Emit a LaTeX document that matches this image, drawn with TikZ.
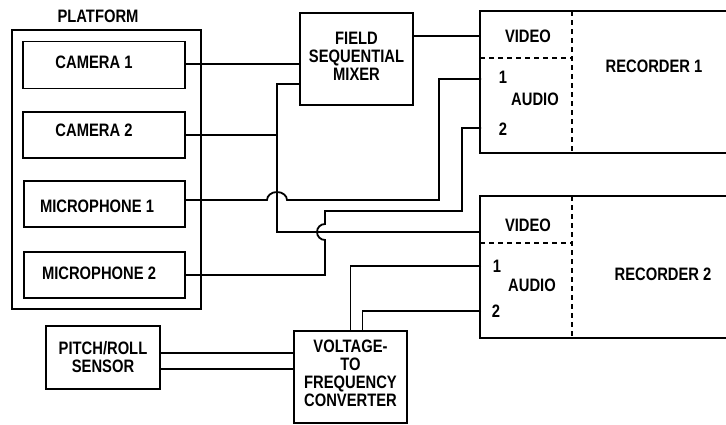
\documentclass[tikz,border=0pt]{standalone}
\usepackage{fontspec}
\setmainfont{Liberation Sans Bold}[FakeStretch=0.82]
\begin{document}
\begin{tikzpicture}[x=1pt,y=-1pt, line width=1.8pt,
  box/.style={draw, rectangle, inner sep=0pt},
  lbl/.style={font=\fontsize{18}{18}\selectfont, inner sep=0pt, align=center},
  dsh/.style={line width=1.5pt, dash pattern=on 5pt off 4pt}]
\useasboundingbox (0,0) rectangle (726,424);

% platform and sources
\node[lbl] (plab) at (98,16) {PLATFORM};
\node[box, minimum width=189pt, minimum height=279pt] (plat) at (106.5,169.5) {};
\node[box, minimum width=162pt, minimum height=47pt] (cam1) at (104,65) {};
\node[box, minimum width=162pt, minimum height=46pt] (cam2) at (104,135) {};
\node[box, minimum width=161pt, minimum height=46pt] (mic1) at (104.5,204) {};
\node[box, minimum width=161pt, minimum height=46pt] (mic2) at (104.5,275) {};
\node[lbl] (cam1t) at (94,62) {CAMERA 1};
\node[lbl] (cam2t) at (94,130.5) {CAMERA 2};
\node[lbl] (mic1t) at (97,206) {MICROPHONE 1};
\node[lbl] (mic2t) at (99,273.5) {MICROPHONE 2};

% mixer
\node[box, minimum width=113pt, minimum height=92pt] (mixer) at (356.5,59) {};
\node[lbl] (mixt) at ([yshift=3pt]mixer.center) {FIELD\\SEQUENTIAL\\MIXER};

% sensor and converter
\node[box, lbl, minimum width=114pt, minimum height=63pt] (prs) at (103,357.5) {PITCH/ROLL\\SENSOR};
\node[box, minimum width=113pt, minimum height=92pt] (vfc) at (350.5,377) {};
\node[lbl] (vfct) at ([yshift=4pt]vfc.center) {VOLTAGE-\\TO\\FREQUENCY\\CONVERTER};

% recorders (open to the right)
\node[inner sep=0pt, minimum width=245pt, minimum height=140pt] (rec1) at (603.5,82) {};
\draw (rec1.north east) -- (rec1.north west) -- (rec1.south west) -- (rec1.south east);
\node[inner sep=0pt, minimum width=245pt, minimum height=140pt] (rec2) at (603.5,267) {};
\draw (rec2.north east) -- (rec2.north west) -- (rec2.south west) -- (rec2.south east);

\coordinate (r1d) at (572,58);
\coordinate (r2d) at (572,243);
\draw[dsh] (rec1.north -| r1d) -- (rec1.south -| r1d);
\draw[dsh] (rec1.west |- r1d) -- (r1d);
\draw[dsh] (rec2.north -| r2d) -- (rec2.south -| r2d);
\draw[dsh] (rec2.west |- r2d) -- (r2d);

\node[lbl] (r1vt) at (528,36) {VIDEO};
\node[lbl] (r1n1) at (503,77) {1};
\node[lbl] (r1at) at (535,99) {AUDIO};
\node[lbl] (r1n2) at (503,129) {2};
\node[lbl] (r1t) at (654,66.5) {RECORDER 1};

\node[lbl] (r2vt) at (528,225.5) {VIDEO};
\node[lbl] (r2n1) at (497,266.5) {1};
\node[lbl] (r2at) at (532,285) {AUDIO};
\node[lbl] (r2n2) at (496,311) {2};
\node[lbl] (r2t) at (663,274) {RECORDER 2};

% ports
\coordinate (r1v) at (481,36);
\coordinate (r1a1) at (481,79);
\coordinate (r1a2) at (481,128);
\coordinate (r2a1) at (481,266);
\coordinate (r2a2) at (481,311);

% wires
\draw ([yshift=1pt]cam1.east) -- ([yshift=1pt]cam1.east -| mixer.west);
\draw (mixer.east |- r1v) -- (r1v);

\coordinate (jt) at (277,84);
\coordinate (jb) at (277,232);
\draw (mixer.west |- jt) -- (jt) -- (jb) -- (jb -| rec2.west);
\draw (cam2.east) -- (cam2.east -| jt);

\coordinate (h1) at (267,200);
\coordinate (x1) at (439,200);
\draw (mic1.east |- h1) -- (h1) arc[start angle=180, end angle=360, x radius=10, y radius=8] -- (x1) |- (r1a1);

\coordinate (v2) at (325,240);
\coordinate (t2) at (325,211);
\coordinate (x2) at (462,211);
\draw (mic2.east) -- (mic2.east -| v2) -- (v2) arc[start angle=90, end angle=270, radius=8] -- (t2) -- (x2) |- (r1a2);

\draw (r2a1) -| (vfc.north);
\draw (r2a2) -| ([xshift=12pt]vfc.north);

\draw ([yshift=4.5pt]prs.east) -- ([yshift=4.5pt]prs.east -| vfc.west);
\draw ([yshift=-11.5pt]prs.east) -- ([yshift=-11.5pt]prs.east -| vfc.west);
\end{tikzpicture}
\end{document}
